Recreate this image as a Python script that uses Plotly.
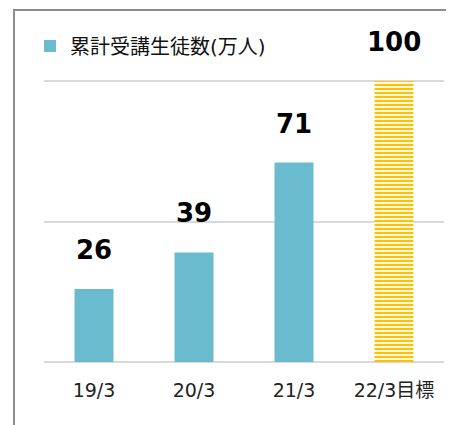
import plotly.graph_objects as go

categories = ["19/3", "20/3", "21/3", "22/3目標"]
actual_values = [26, 39, 71]
target_values = [100]
series_name = "累計受講生徒数(万人)"

BLUE = "#6BBBCE"
YELLOW = "#FFC000"
FONT = "Verdana, DejaVu Sans, Noto Sans CJK JP"

fig = go.Figure()
fig.add_trace(go.Bar(
    x=categories[:3], y=actual_values, name=series_name,
    marker=dict(color=BLUE, line=dict(width=0)), width=0.39,
    showlegend=True,
))
fig.add_trace(go.Bar(
    x=categories[3:], y=target_values, name="目標",
    marker=dict(color=YELLOW, line=dict(width=0),
                pattern=dict(shape="-", fgcolor="white", bgcolor=YELLOW,
                             size=4, solidity=0.45, fillmode="replace")),
    width=0.39, showlegend=False,
))

for c, v in zip(categories, actual_values + target_values):
    fig.add_annotation(x=c, y=v, text=f"<b>{v}</b>", showarrow=False,
                       yshift=39, font=dict(size=26, color="black", family=FONT))

fig.update_layout(
    width=454, height=425,
    margin=dict(l=36, r=18, t=17, b=71, autoexpand=False),
    paper_bgcolor="white", plot_bgcolor="white",
    font=dict(family=FONT, color="#222"),
    barmode="overlay",
    showlegend=True,
    legend=dict(x=-0.035, y=0.938, xanchor="left", yanchor="middle",
                orientation="h", font=dict(size=20, color="#111"),
                bgcolor="rgba(0,0,0,0)"),
    xaxis=dict(categoryorder="array", categoryarray=categories,
               tickfont=dict(size=19, color="#222"), showline=False,
               showgrid=False, ticks="", ticklen=0, ticklabelstandoff=15),
    yaxis=dict(range=[0, 120], dtick=50, showticklabels=False,
               gridcolor="#D9D9D9", gridwidth=1.5, zeroline=True,
               zerolinecolor="#D9D9D9", zerolinewidth=1.5, showline=False),
)
fig.add_shape(type="rect", xref="paper", yref="paper",
              x0=-0.075, x1=1.2, y0=-0.5, y1=1.0445,
              line=dict(color="#8C8C8C", width=2), layer="above")

fig.write_html("out.html")
